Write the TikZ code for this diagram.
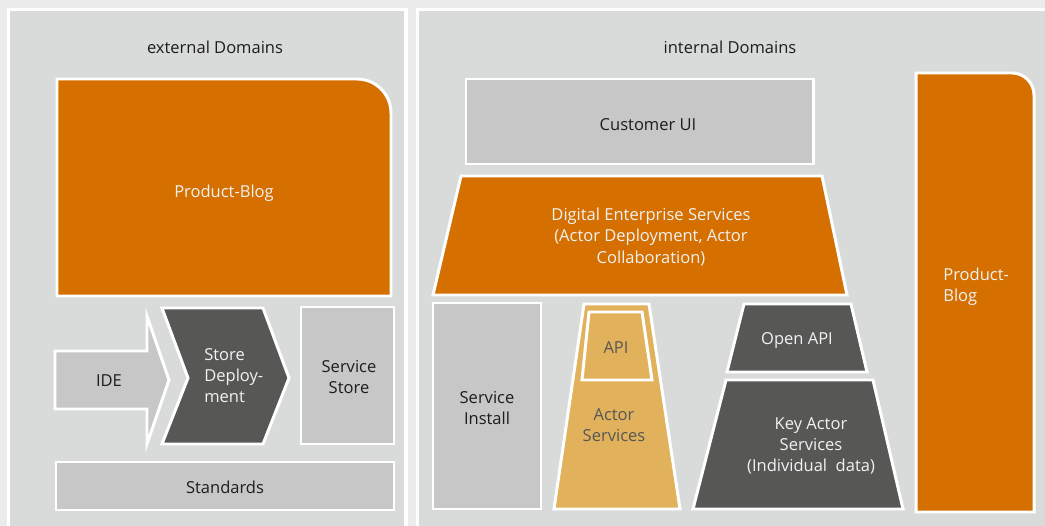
\documentclass[tikz,border=0pt]{standalone}
\usepackage{fontspec}
\setmainfont{Open Sans}
\usepackage{tikz}

\definecolor{paper}{HTML}{ECECEC}
\definecolor{panelgray}{HTML}{D9DBDA}
\definecolor{boxgray}{HTML}{C6C7C6}
\definecolor{slate}{HTML}{575756}
\definecolor{blogorange}{HTML}{D46F00}
\definecolor{actorgold}{HTML}{E2B15B}
\definecolor{ink}{HTML}{1D1D1B}

\begin{document}
\begin{tikzpicture}[x=0.02cm,y=-0.02cm,
		panel/.style={fill=panelgray,draw=white,line width=2pt},
		block/.style={draw=white,line width=1.7pt,line join=miter},
		txt/.style={font=\fontsize{9.4}{12}\selectfont,align=center,inner sep=0pt},
		darktxt/.style={txt,text=ink},
		lighttxt/.style={txt,text=white!95!black}]
				% page and the two domain panels (they run off the right and bottom edge)
				\fill[paper] (0,0) rectangle (1045,526);
				\useasboundingbox (0,0) rectangle (1045,526);
				\draw[panel] (8.5,9.5) rectangle (406,560);
				\draw[panel] (417.5,9.5) rectangle (1080,560);
				\node[darktxt] (extitle) at (215,47) {external Domains};
				\node[darktxt] (intitle) at (730,47) {internal Domains};
				% external side
				\filldraw[block,fill=blogorange] (57,296) -- (57,79) -- (357,79)
					arc[start angle=-90,end angle=0,radius=34] -- (391,296) -- cycle;
				\node[lighttxt] (blogext) at (224,193) {Product-Blog};
				\filldraw[block,fill=boxgray] (55,351) -- (147,351) -- (147,316) -- (169,380)
					-- (147,444) -- (147,409) -- (55,409) -- cycle;
				\node[darktxt] (ide) at (109,381) {IDE};
				\filldraw[block,fill=slate] (162,308) -- (263,308) -- (289,378) -- (263,444)
					-- (162,444) -- (188,378) -- cycle;
				\node[lighttxt,align=left,anchor=west] (storedeploy) at (204,376) {Store\\Deploy-\\ment};
				\filldraw[block,fill=boxgray] (301,307) rectangle (394,444);
				\node[darktxt] (servicestore) at (349,377) {Service\\Store};
				\filldraw[block,fill=boxgray] (56,462) rectangle (394,510);
				\node[darktxt] (standards) at (225,487) {Standards};
				% internal side
				\filldraw[block,fill=boxgray] (466,79) rectangle (813,164);
				\node[darktxt] (customerui) at (648,125) {Customer UI};
				\filldraw[block,fill=blogorange] (461,176) -- (822,176) -- (847,295) -- (433,295) -- cycle;
				\node[lighttxt] (des) at (651,237) {Digital Enterprise Services\\(Actor Deployment, Actor\\Collaboration)};
				\filldraw[block,fill=boxgray] (433,303) rectangle (541,509);
				\node[darktxt] (serviceinstall) at (487,408) {Service\\Install};
				\filldraw[block,fill=actorgold] (584,304) -- (649,304) -- (680,509) -- (554,509) -- cycle;
				\filldraw[block,fill=actorgold] (589,312) -- (642,312) -- (652,380) -- (582,380) -- cycle;
				\node[txt,text=slate] (api) at (616,348) {API};
				\node[txt,text=slate] (actorservices) at (614,425) {Actor\\Services};
				\filldraw[block,fill=slate] (744,304) -- (851,304) -- (867,372) -- (727,372) -- cycle;
				\node[lighttxt] (openapi) at (797,340) {Open API};
				\filldraw[block,fill=slate] (726,380) -- (873,380) -- (903,509) -- (693,509) -- cycle;
				\node[lighttxt] (keyactor) at (811,446) {Key Actor\\Services\\(Individual~~data)};
				\filldraw[block,fill=blogorange] (916,512) -- (916,73) -- (1012,73)
					arc[start angle=-90,end angle=0,radius=22] -- (1034,512) -- cycle;
				\node[lighttxt,align=left,anchor=west] (blogint) at (943,287) {Product-\\Blog};
			\end{tikzpicture}
\end{document}
